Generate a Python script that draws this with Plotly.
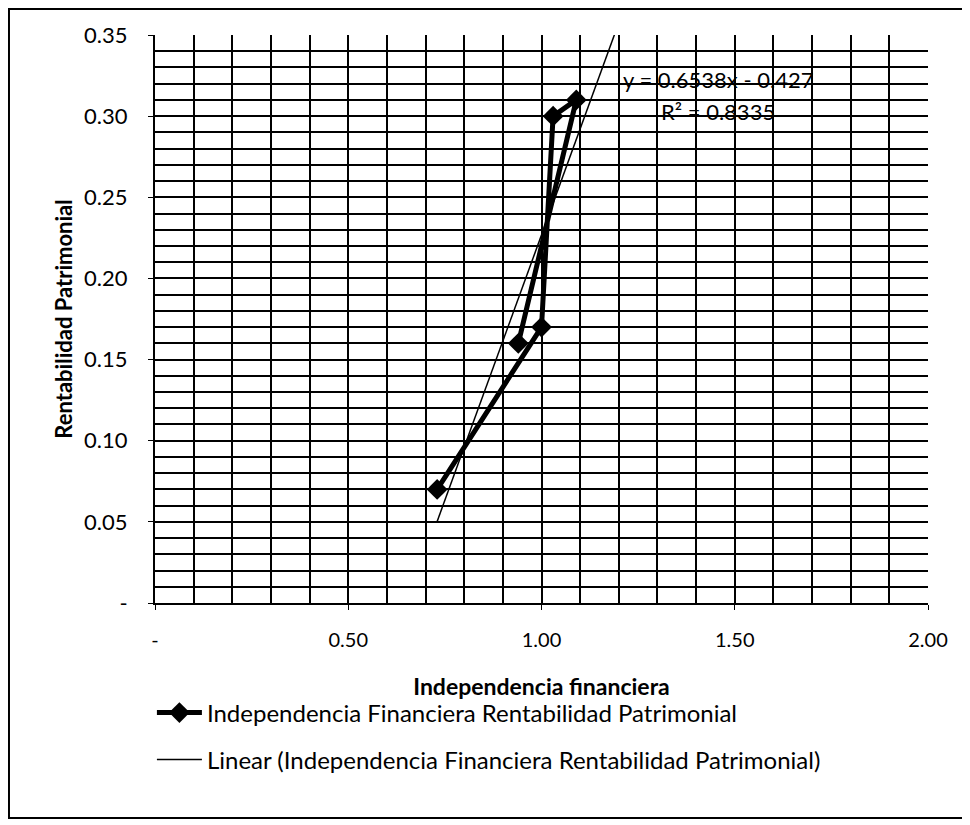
import plotly.graph_objects as go

# data (order as the line is drawn)
indep_financiera = [0.73, 1.00, 1.03, 1.09, 0.94]
rent_patrimonial = [0.07, 0.17, 0.30, 0.31, 0.16]

# trendline coefficients shown on the chart
slope = 0.6538
intercept = -0.427
trend_x = [0.73, 1.20]
trend_y = [slope * v + intercept for v in trend_x]

# tick labels
x_tickvals = [0, 0.5, 1.0, 1.5, 2.0]
x_ticktext = ['-', '0.50', '1.00', '1.50', '2.00']
y_tickvals = [0, 0.05, 0.10, 0.15, 0.20, 0.25, 0.30, 0.35]
y_ticktext = ['-', '0.05', '0.10', '0.15', '0.20', '0.25', '0.30', '0.35']

series_name = 'Independencia Financiera Rentabilidad Patrimonial'
font_name = 'Lato, Open Sans, sans-serif'

fig = go.Figure()

fig.add_trace(go.Scatter(
    x=indep_financiera,
    y=rent_patrimonial,
    mode='lines+markers',
    name=series_name,
    line=dict(color='black', width=5),
    marker=dict(symbol='diamond', size=16, color='black'),
    legend='legend'
))

fig.add_trace(go.Scatter(
    x=trend_x,
    y=trend_y,
    mode='lines',
    name='Linear (' + series_name + ')',
    line=dict(color='black', width=1.5),
    legend='legend2'
))

# trendline equation
eq_font = dict(family=font_name, size=22, color='black')
fig.add_annotation(x=1.457, y=0.3223, xref='x', yref='y', text='y = 0.6538x - 0.427',
                   showarrow=False, xanchor='center', font=eq_font)
fig.add_annotation(x=1.457, y=0.3026, xref='x', yref='y', text='R² = 0.8335',
                   showarrow=False, xanchor='center', font=eq_font)

# outer frame
fig.add_shape(type='rect', xref='paper', yref='paper',
              x0=-0.1889, x1=1.0517, y0=-0.3785, y1=1.0458,
              line=dict(color='black', width=2))

legend_font = dict(family=font_name, size=24, color='black')

fig.update_layout(
    width=970,
    height=825,
    margin=dict(l=147, r=50, t=27, b=230),
    paper_bgcolor='white',
    plot_bgcolor='white',
    font=dict(family=font_name, size=17, color='black'),
    showlegend=True,
    legend=dict(x=-0.004, y=-0.1937, xanchor='left', yanchor='middle', itemwidth=45,
                font=legend_font, bgcolor='rgba(0,0,0,0)'),
    legend2=dict(x=-0.004, y=-0.2764, xanchor='left', yanchor='middle', itemwidth=45,
                 font=legend_font, bgcolor='rgba(0,0,0,0)'),
    xaxis=dict(
        range=[0, 2],
        tickvals=x_tickvals,
        ticktext=x_ticktext,
        ticks='outside',
        ticklen=5,
        tickcolor='black',
        ticklabelstandoff=13,
        showgrid=True,
        gridcolor='black',
        gridwidth=2,
        minor=dict(dtick=0.1, showgrid=True, gridcolor='black', gridwidth=2),
        showline=True,
        linecolor='black',
        linewidth=2,
        zeroline=False,
        automargin=False,
        title=dict(text='Independencia financiera', standoff=29,
                   font=dict(family=font_name, size=23, color='black', weight=700)),
        tickfont=dict(family=font_name, size=20, color='black')
    ),
    yaxis=dict(
        range=[0, 0.35],
        tickvals=y_tickvals,
        ticktext=y_ticktext,
        ticks='outside',
        ticklen=5,
        tickcolor='black',
        ticklabelstandoff=16,
        showgrid=True,
        gridcolor='black',
        gridwidth=2,
        minor=dict(dtick=0.01, showgrid=True, gridcolor='black', gridwidth=2),
        showline=True,
        linecolor='black',
        linewidth=2,
        zeroline=False,
        automargin=False,
        title=dict(text='Rentabilidad Patrimonial', standoff=5,
                   font=dict(family=font_name, size=22, color='black', weight=700)),
        tickfont=dict(family=font_name, size=22, color='black')
    )
)

fig.write_html("out.html")
